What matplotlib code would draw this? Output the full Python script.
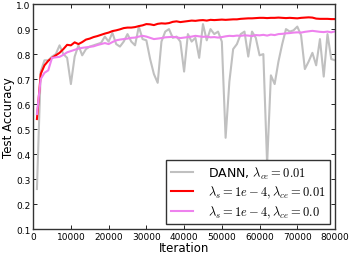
import matplotlib
matplotlib.use("Agg")
import matplotlib.pyplot as plt
import numpy as np

plt.rcParams['mathtext.fontset'] = 'cm'
plt.rcParams['font.family'] = ['DejaVu Sans']

iterations = list(range(1000, 80001, 1000))

dann = [0.26, 0.73, 0.775, 0.775, 0.79, 0.80, 0.835, 0.80, 0.785, 0.68,
        0.79, 0.835, 0.795, 0.82, 0.83, 0.835, 0.84, 0.845, 0.87, 0.85,
        0.885, 0.84, 0.83, 0.85, 0.88, 0.85, 0.835, 0.91, 0.86, 0.855,
        0.78, 0.72, 0.685, 0.85, 0.89, 0.90, 0.865, 0.87, 0.85, 0.73,
        0.88, 0.85, 0.865, 0.785, 0.92, 0.855, 0.90, 0.88, 0.89, 0.85,
        0.465, 0.69, 0.82, 0.84, 0.88, 0.89, 0.79, 0.89, 0.865, 0.795,
        0.80, 0.36, 0.715, 0.68, 0.77, 0.84, 0.90, 0.89, 0.895, 0.91,
        0.875, 0.74, 0.77, 0.805, 0.755, 0.86, 0.71, 0.88, 0.78, 0.775]

ours_001 = [0.54, 0.72, 0.755, 0.773, 0.785, 0.795, 0.805, 0.82, 0.837, 0.835,
            0.847, 0.84, 0.848, 0.858, 0.862, 0.868, 0.872, 0.877, 0.882, 0.886,
            0.892, 0.895, 0.899, 0.904, 0.906, 0.906, 0.908, 0.912, 0.915, 0.92,
            0.919, 0.916, 0.921, 0.923, 0.922, 0.924, 0.929, 0.931, 0.928, 0.93,
            0.932, 0.934, 0.933, 0.935, 0.936, 0.934, 0.937, 0.936, 0.937, 0.938,
            0.937, 0.938, 0.939, 0.939, 0.941, 0.942, 0.943, 0.943, 0.944, 0.945,
            0.945, 0.944, 0.945, 0.945, 0.946, 0.945, 0.944, 0.945, 0.944, 0.943,
            0.945, 0.946, 0.947, 0.946, 0.942, 0.941, 0.941, 0.941, 0.94, 0.94]

ours_00 = [0.56, 0.70, 0.725, 0.735, 0.785, 0.787, 0.789, 0.797, 0.807, 0.812,
           0.817, 0.822, 0.825, 0.827, 0.829, 0.831, 0.836, 0.84, 0.844, 0.84,
           0.848, 0.855, 0.858, 0.86, 0.862, 0.865, 0.866, 0.87, 0.873, 0.87,
           0.865, 0.86, 0.862, 0.864, 0.867, 0.868, 0.869, 0.867, 0.864, 0.866,
           0.868, 0.87, 0.873, 0.871, 0.869, 0.87, 0.867, 0.868, 0.866, 0.868,
           0.871, 0.873, 0.872, 0.874, 0.873, 0.875, 0.874, 0.872, 0.876, 0.875,
           0.877, 0.874, 0.878, 0.876, 0.88, 0.881, 0.883, 0.884, 0.886, 0.887,
           0.886, 0.889, 0.891, 0.893, 0.891, 0.889, 0.888, 0.89, 0.887, 0.891]

labels = [r'DANN, $\lambda_{ce} = 0.01$',
          r'$\lambda_s = 1e-4, \lambda_{ce} = 0.01$',
          r'$\lambda_s = 1e-4, \lambda_{ce} = 0.0$']
x_ticks = [0, 10000, 20000, 30000, 40000, 50000, 60000, 70000, 80000]
y_ticks = [0.1, 0.2, 0.3, 0.4, 0.5, 0.6, 0.7, 0.8, 0.9, 1.0]

fig = plt.figure(figsize=(3.49, 2.55), dpi=100)
ax = fig.add_axes([0.095, 0.098, 0.865, 0.882])

ax.plot(iterations, dann, color='#c0c0c0', lw=1.5, label=labels[0])
ax.plot(iterations, ours_001, color='#ff0000', lw=1.5, label=labels[1])
ax.plot(iterations, ours_00, color='#ee82ee', lw=1.5, label=labels[2])

ax.set_xlim(0, 80000)
ax.set_ylim(0.1, 1.0)
ax.set_xticks(x_ticks)
ax.set_yticks(y_ticks)
ax.set_yticklabels([f'{v:.1f}' for v in y_ticks])
ax.tick_params(direction='in', top=True, right=True, labelsize=6.5, length=3, width=0.6, pad=2)
for s in ax.spines.values():
    s.set_linewidth(1.0)
    s.set_color('#333333')
ax.set_xlabel('Iteration', fontsize=8.5, labelpad=0)
ax.set_ylabel('Test Accuracy', fontsize=8.5, labelpad=1)

leg = ax.legend(loc='lower right', fontsize=9, fancybox=False, framealpha=1,
                edgecolor='#333333', borderaxespad=0.4, handlelength=1.8,
                handletextpad=1.2, labelspacing=0.25, borderpad=0.35)
leg.get_frame().set_linewidth(1.0)

fig.savefig('out.png', dpi=100)
